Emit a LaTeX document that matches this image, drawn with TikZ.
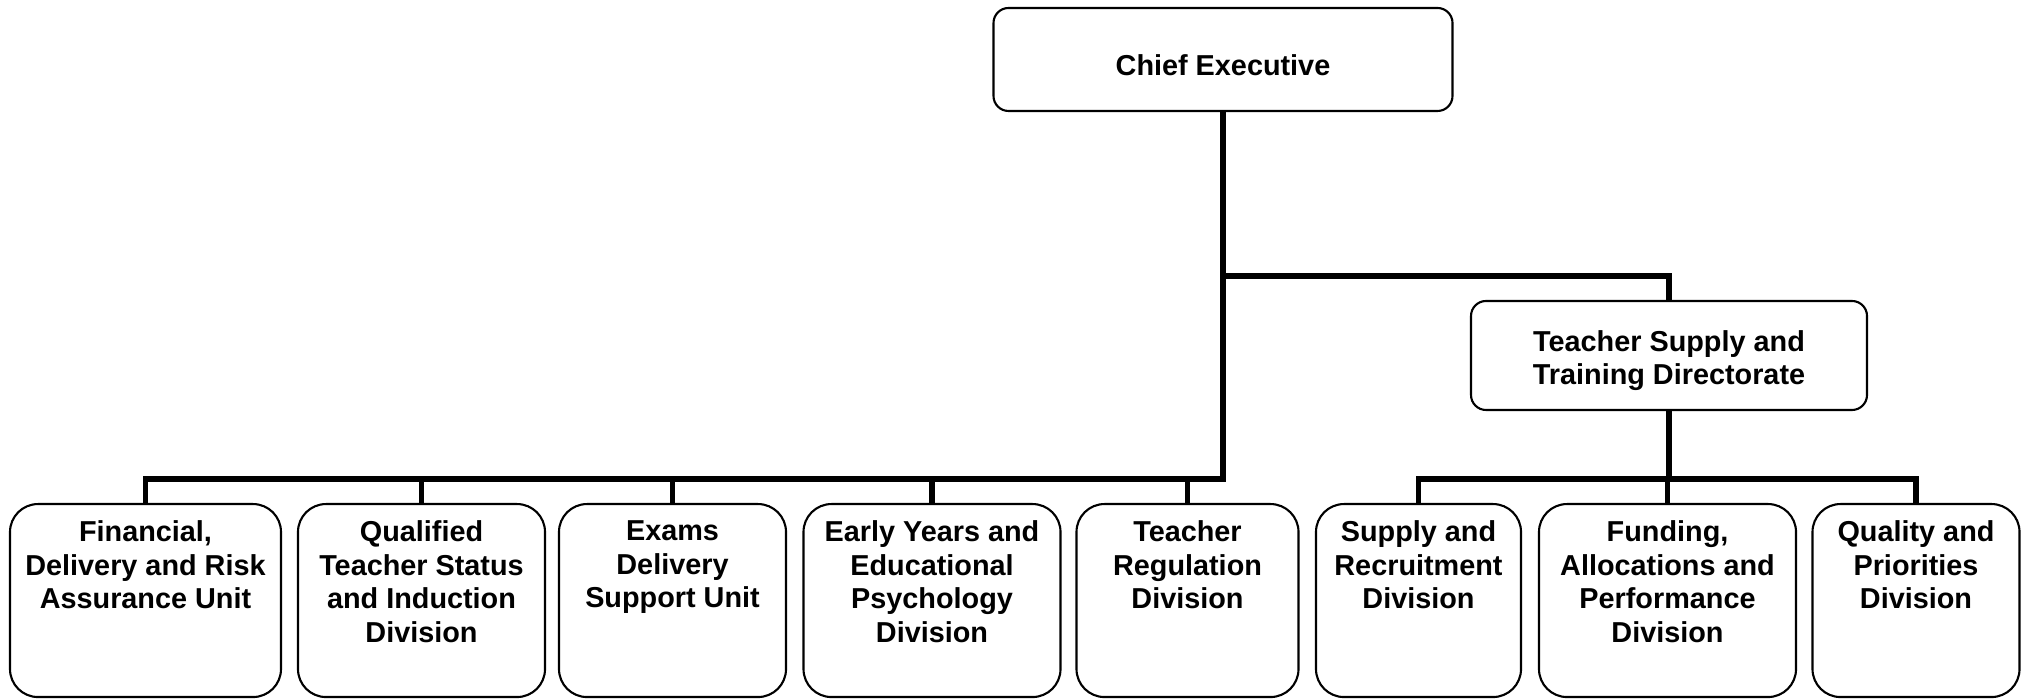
\documentclass[tikz,border=0pt]{standalone}
\usepackage{fontspec}
\setmainfont{Liberation Sans}
\usetikzlibrary{positioning}
\newcommand{\unitlabel}[2]{\parbox[t][1.6cm][t]{#1}{\centering #2}}
\tikzset{
  unit/.style={draw, line width=0.6pt, rounded corners=0.28cm,
    font=\fontsize{8.2}{9.6}\selectfont\bfseries, anchor=north,
    inner xsep=1pt, inner ysep=0.165cm},
  head/.style={draw, line width=0.6pt, rounded corners=0.15cm, align=center,
    font=\fontsize{8.2}{9.6}\selectfont\bfseries, text depth=0pt},
  bus/.style={line width=1.6pt, line join=miter},
}
\begin{document}
\begin{tikzpicture}
  \useasboundingbox (0,0) rectangle (20.29,6.99);
  % top of the chart
  \node[head, minimum width=4.59cm, minimum height=1.03cm, text height=9pt] (chief) at (12.23,6.395) {Chief Executive};
  \node[head, minimum width=3.96cm, minimum height=1.09cm, text height=16.7pt] (tstd) at (16.69,3.435) {Teacher Supply and\\Training Directorate};
  \coordinate (split) at (0,4.23);
  \coordinate (tier) at (0,2.2);
  % units and divisions
  \node[unit, minimum width=2.71cm] (fin) at (1.455,1.96) {\unitlabel{2.6cm}{Financial,\\Delivery and Risk\\Assurance Unit}};
  \node[unit, minimum width=2.47cm] (qts) at (4.215,1.96) {\unitlabel{2.4cm}{Qualified\\Teacher Status\\and Induction\\Division}};
  \node[unit, minimum width=2.25cm] (exams) at (6.725,1.96) {\unitlabel{2.2cm}{Exams\\Delivery\\Support Unit}};
  \node[unit, minimum width=2.56cm] (eyep) at (9.32,1.96) {\unitlabel{2.5cm}{Early Years and\\Educational\\Psychology\\Division}};
  \node[unit, minimum width=2.21cm] (treg) at (11.875,1.96) {\unitlabel{2.15cm}{Teacher\\Regulation\\Division}};
  \node[unit, minimum width=2.03cm] (supply) at (14.185,1.96) {\unitlabel{1.98cm}{Supply and\\Recruitment\\Division}};
  \node[unit, minimum width=2.57cm] (funding) at (16.675,1.96) {\unitlabel{2.5cm}{Funding,\\Allocations and\\Performance\\Division}};
  \node[unit, minimum width=2.06cm] (quality) at (19.16,1.96) {\unitlabel{2cm}{Quality and\\Priorities\\Division}};
  % connectors
  \draw[bus] (chief.south) -- (chief.south |- tier) -| (fin.north);
  \foreach \n in {qts,exams,eyep,treg}
    \draw[bus] (\n.north) -- (\n.north |- tier);
  \draw[bus] (chief.south |- split) -| (tstd.north);
  \draw[bus] (tstd.south) -- (tstd.south |- tier) -| (supply.north);
  \draw[bus] (tstd.south |- tier) -| (quality.north);
  \draw[bus] (funding.north) -- (funding.north |- tier);
\end{tikzpicture}
\end{document}
